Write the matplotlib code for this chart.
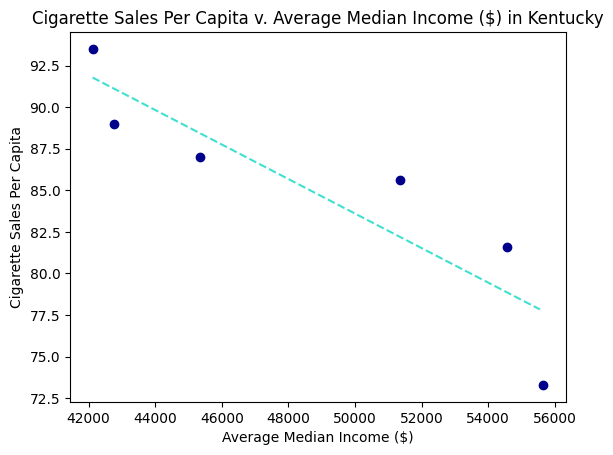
import numpy as np
import matplotlib
matplotlib.use("Agg")
import matplotlib.pyplot as plt

income = [42129, 42768, 45348, 51339, 54549, 55659]
sales = [93.5, 89.0, 87.0, 85.6, 81.6, 73.3]

# fitted trend line (start / end)
trend_income = [42120, 55551]
trend_sales = [91.78, 77.84]

fig, ax = plt.subplots(figsize=(6.4, 4.8), dpi=100)
ax.scatter(income, sales, color='darkblue')
ax.plot(trend_income, trend_sales, linestyle='--', color='turquoise')
ax.set_title('Cigarette Sales Per Capita v. Average Median Income ($) in Kentucky')
ax.set_xlabel('Average Median Income ($)')
ax.set_ylabel('Cigarette Sales Per Capita')
fig.savefig('out.png', bbox_inches='tight')
